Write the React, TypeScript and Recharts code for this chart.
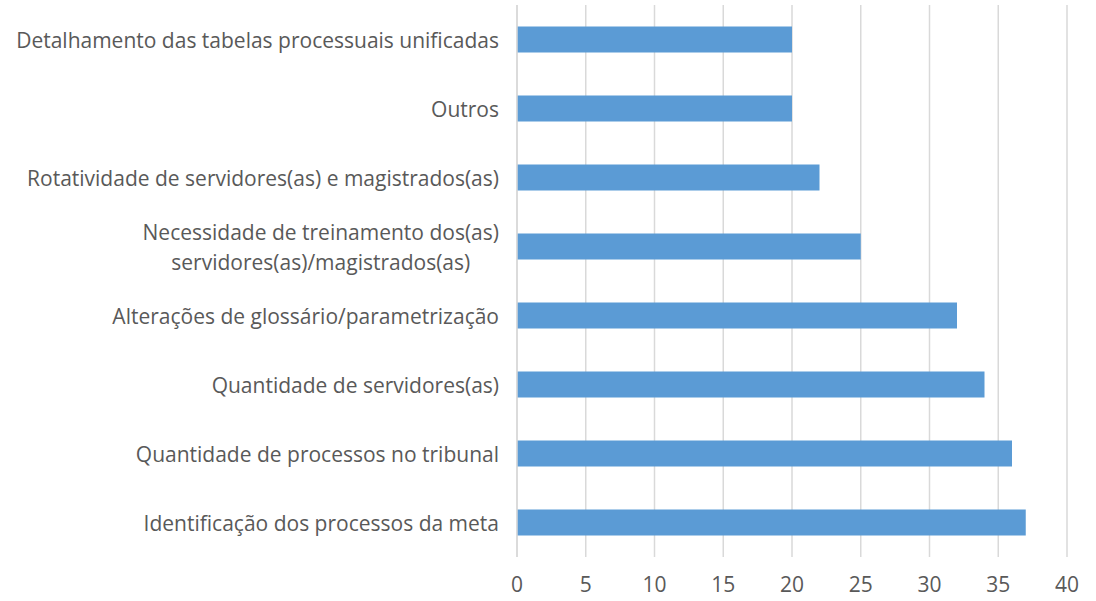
import React from 'react';
import { BarChart, Bar, XAxis, YAxis, CartesianGrid } from 'recharts';

const categories: string[] = [
  'Detalhamento das tabelas processuais unificadas',
  'Outros',
  'Rotatividade de servidores(as) e magistrados(as)',
  'Necessidade de treinamento dos(as)\nservidores(as)/magistrados(as)',
  'Alterações de glossário/parametrização',
  'Quantidade de servidores(as)',
  'Quantidade de processos no tribunal',
  'Identificação dos processos da meta',
];
const values: number[] = [20, 20, 22, 25, 32, 34, 36, 37];
const xTicks: number[] = [0, 5, 10, 15, 20, 25, 30, 35, 40];

const data = categories.map((c, i) => ({ name: c, value: values[i] }));

const FONT = '"Open Sans", sans-serif';
const FS = 21;
const COLOR = '#595959';

function measure(t: string): number {
  const c = document.createElement('canvas').getContext('2d');
  if (!c) return t.length * FS * 0.5;
  c.font = `${FS}px "Open Sans"`;
  return c.measureText(t).width;
}

const YTick = (props: any) => {
  const { x, y, payload } = props;
  const lines: string[] = String(payload.value).split('\n');
  const maxW = Math.max(...lines.map(measure));
  const cx = x - maxW / 2;
  const lh = 30;
  const y0 = y - ((lines.length - 1) * lh) / 2;
  return (
    <g>
      {lines.map((l, i) => (
        <text key={i} x={cx} y={y0 + i * lh} textAnchor="middle" dominantBaseline="central"
          fill={COLOR} fontSize={FS} fontFamily={FONT}>{l}</text>
      ))}
    </g>
  );
};

export default function App() {
  return (
    <div style={{ position: 'absolute', left: 0, top: 0, background: '#fff' }}>
      <BarChart width={1096} height={601} data={data} layout="vertical"
        margin={{ top: 5, right: 29, bottom: 0, left: 0 }} barCategoryGap={21.5}>
        <CartesianGrid horizontal={false} stroke="#d9d9d9" strokeWidth={1.5} />
        <XAxis type="number" domain={[0, 40]} ticks={xTicks} axisLine={false} tickLine={false}
          height={44} tickMargin={14}
          tick={{ fill: COLOR, fontSize: FS, fontFamily: FONT }} />
        <YAxis type="category" dataKey="name" width={517} axisLine={{ stroke: '#d9d9d9', strokeWidth: 1.5 }}
          tickLine={false} tickMargin={12} tick={<YTick />} interval={0} />
        <Bar dataKey="value" fill="#5b9bd5" isAnimationActive={false} />
      </BarChart>
    </div>
  );
}
